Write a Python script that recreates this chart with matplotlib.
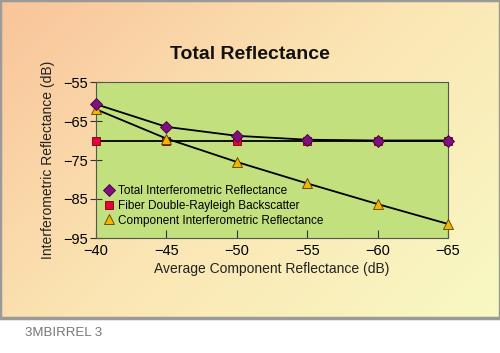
import numpy as np
import matplotlib.pyplot as plt
from matplotlib.colors import LinearSegmentedColormap
from matplotlib.patches import Rectangle

# data
x_vals = [-40, -45, -50, -55, -60, -65]
total_refl = [-60.7, -66.5, -68.8, -69.8, -70.0, -70.0]
fiber_backscatter = [-70.0, -70.0, -70.0, -70.0, -70.0, -70.0]
component_refl = [-62.0, -69.5, -75.5, -81.0, -86.3, -91.4]
x_ticks = [-40, -45, -50, -55, -60, -65]
y_ticks = [-55, -65, -75, -85, -95]

series_names = ["Total Interferometric Reflectance",
                "Fiber Double-Rayleigh Backscatter",
                "Component Interferometric Reflectance"]

plt.rcParams['font.family'] = ['Liberation Sans', 'DejaVu Sans']
plt.rcParams['axes.unicode_minus'] = True

fig = plt.figure(figsize=(5.0, 3.53), dpi=100)

# gradient panel behind the chart
panel_h = 318 / 353
bg = fig.add_axes([0, 1 - panel_h, 1, panel_h], zorder=0)
cmap = LinearSegmentedColormap.from_list("panel", ["#f9c49a", "#fbe6b4", "#f8f9c4"])
gx, gy = np.meshgrid(np.linspace(0, 1, 200), np.linspace(0, 1, 200))
bg.imshow(gx * 0.6 + gy * 0.4, cmap=cmap, aspect="auto", extent=[0, 1, 0, 1])
bg.add_patch(Rectangle((0, 0), 1, 1, fill=False, edgecolor="#9a9a9a", linewidth=2.5,
                       transform=bg.transAxes, clip_on=False))
bg.set_xlim(0, 1)
bg.set_ylim(0, 1)
bg.axis("off")

ax = fig.add_axes([96 / 500, 115 / 353, 352 / 500, 156 / 353], zorder=1)
ax.set_facecolor("#c3e07f")

ax.plot(x_vals, fiber_backscatter, color="black", lw=1.3, marker="s", ms=6,
        mfc="#e8003c", mec="#7a0010", mew=0.6, label=series_names[1], zorder=3,
        clip_on=False)
ax.plot(x_vals, component_refl, color="black", lw=1.3, marker="^", ms=7,
        mfc="#f2b600", mec="#5a3c00", mew=0.6, label=series_names[2], zorder=4,
        clip_on=False)
ax.plot(x_vals, total_refl, color="black", lw=1.3, marker="D", ms=6,
        mfc="#80107f", mec="#3a003a", mew=0.6, label=series_names[0], zorder=5,
        clip_on=False)

ax.set_xlim(-40, -65)
ax.set_ylim(-95, -55)
ax.set_xticks(x_ticks)
ax.set_yticks(y_ticks)
ax.tick_params(axis="x", direction="in", length=6, labelsize=10.5, pad=4, color="#333333")
ax.tick_params(axis="y", direction="inout", length=8, labelsize=10.5, pad=2, color="#333333")
for sp in ax.spines.values():
    sp.set_color("#555555")
    sp.set_linewidth(0.8)

ax.set_xlabel("Average Component Reflectance (dB)", fontsize=10, labelpad=3, color="#222222")
ax.set_ylabel("Interferometric Reflectance (dB)", fontsize=10, labelpad=6, color="#222222")

handles, labels = ax.get_legend_handles_labels()
order = [2, 0, 1]
leg = ax.legend([handles[i] for i in order], [labels[i] for i in order],
                loc="lower left", bbox_to_anchor=(0.0, 0.02), frameon=False,
                fontsize=8.5, handlelength=0.8, handletextpad=0.4, labelspacing=0.25,
                borderaxespad=0.3)
for h in leg.legend_handles:
    h.set_linestyle("none")

fig.text(0.5, 0.845, "Total Reflectance", ha="center", va="center",
         fontsize=14, fontweight="bold", color="#111111")
fig.text(0.05, 0.057, "3MBIRREL 3", ha="left", va="center",
         fontsize=9.5, color="#777777")

fig.savefig("out.png", dpi=100)
